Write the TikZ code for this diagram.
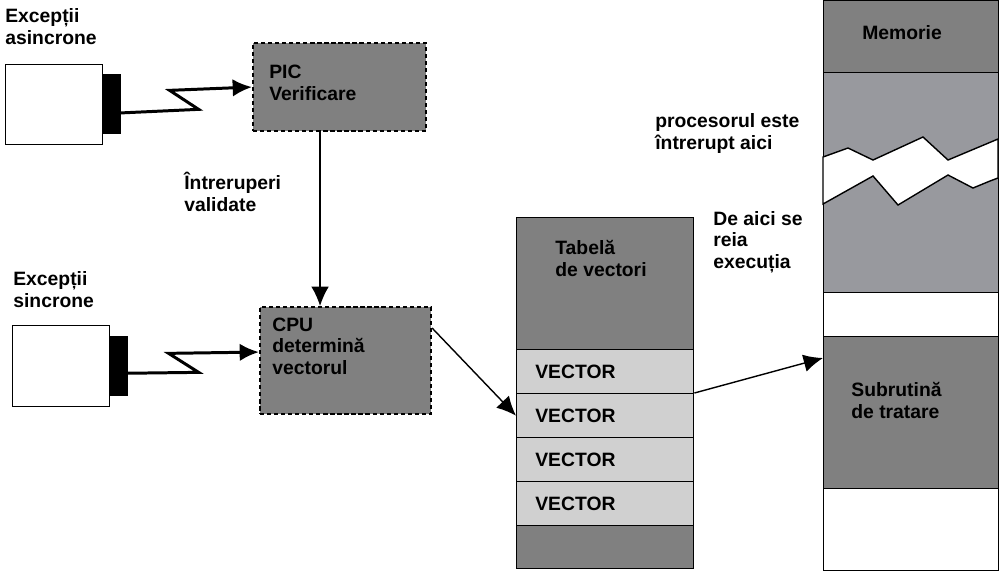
\documentclass[tikz,border=0pt]{standalone}
\usepackage{fontspec}
\setmainfont{Liberation Sans}
\usetikzlibrary{arrows.meta,positioning}
\definecolor{boxgray}{RGB}{128,128,128}
\definecolor{memgray}{RGB}{152,153,158}
\definecolor{rowgray}{RGB}{208,208,208}
\tikzset{>={Latex[length=11pt,width=10pt]}}
\tikzset{lbl/.style={font=\fontsize{11}{12.2}\selectfont\bfseries, anchor=base west, inner sep=0pt, align=left}}
\tikzset{cell/.style={draw, line width=0.8pt, anchor=north west, inner sep=0pt, minimum width=#1}}
\tikzset{device/.style={cell=1.94cm, fill=white}}
\tikzset{plug/.style={fill=black, anchor=north west, inner sep=0pt, minimum width=0.37cm, minimum height=1.2cm}}
\tikzset{unit/.style={fill=boxgray, anchor=north west, inner sep=0pt,
    preaction={draw=gray!25, line width=1.2pt},
    draw, line width=1.2pt, dash pattern=on 2.4pt off 1.6pt}}
\tikzset{zap/.style={->, line width=1.7pt}}
\tikzset{link/.style={->, line width=0.8pt}}

\begin{document}
\begin{tikzpicture}[x=0.02cm, y=-0.02cm]
  \useasboundingbox (0,0) rectangle (1000,583);
  % sources of exceptions
  \node[device, minimum height=1.6cm] (async) at (5,64) {};
  \node[plug] (asyncplug) at (102,74) {};
  \node[device, minimum height=1.62cm] (sync) at (12,325) {};
  \node[plug] (syncplug) at (109,336) {};
  \node[lbl] (asynctxt) at (5,44) {Excepții\\asincrone};
  \node[lbl] (synctxt) at (13,307) {Excepții\\sincrone};

  % controller and processor
  \node[unit, minimum width=3.46cm, minimum height=1.76cm] (pic) at (252,42) {};
  \node[unit, minimum width=3.42cm, minimum height=2.14cm] (cpu) at (259,306) {};
  \node[lbl] (pictxt) at (269,100) {PIC\\Verificare};
  \node[lbl] (cputxt) at (272,374) {CPU\\determină\\vectorul};
  \node[lbl] (validtxt) at (184,211) {Întreruperi\\validate};

  % vector table
  \node[cell=3.54cm, fill=boxgray, minimum height=2.64cm] (tabtop) at (516,217) {};
  \foreach \i in {1,...,4}
    \node[cell=3.54cm, fill=rowgray, minimum height=0.88cm] (vec\i) at (516,305+44*\i) {};
  \node[cell=3.54cm, fill=boxgray, minimum height=0.86cm] (tabbot) at (516,525) {};
  \node[lbl] (tabtxt) at (555,276) {Tabelă\\de vectori};
  \foreach \i in {1,...,4}
    \node[lbl] (vectxt\i) at (535,334+44*\i) {VECTOR};

  % memory
  \node[cell=3.5cm, fill=boxgray, minimum height=1.44cm] (memtop) at (823,0) {};
  \node[cell=3.5cm, fill=memgray, minimum height=4.4cm] (memmid) at (823,72) {};
  \node[cell=3.5cm, fill=white, minimum height=0.88cm] (memgap) at (823,292) {};
  \node[cell=3.5cm, fill=boxgray, minimum height=3.04cm] (memsub) at (823,336) {};
  \node[cell=3.5cm, fill=white, minimum height=1.64cm] (membot) at (823,488) {};
  \draw[fill=white, line width=0.8pt] (823,157) -- (848,148) -- (873,160) -- (923,137)
    -- (948,160) -- (998,139) -- (998,178) -- (990,181) -- (973,188) -- (948,175)
    -- (898,205) -- (873,176) -- (823,204) -- cycle;
  \node[lbl] (memtxt) at (862,39) {Memorie};
  \node[lbl] (subtxt) at (851,418) {Subrutină\\de tratare};
  \node[lbl] (stoptxt) at (655,149) {procesorul este\\întrerupt aici};
  \node[lbl] (resumetxt) at (713,268) {De aici se\\reia\\execuția};

  % connections
  \draw[zap] ([yshift=-0.18cm]asyncplug.center) -- ++(87,-4) -- ++(-29,-19) -- (pic.west);
  \draw[zap] ([yshift=-0.14cm]syncplug.center) -- ++(80,-1) -- ++(-30,-19) -- ([yshift=0.17cm]cpu.west);
  \draw[link] ([xshift=-0.39cm]pic.south) -- ([xshift=-0.39cm]pic.south |- cpu.north);
  \draw[link] ([yshift=-0.44cm]cpu.north east) -- (vec2.west);
  \draw[link] (vec2.north east) -- ([yshift=-0.44cm]memsub.north west);
\end{tikzpicture}
\end{document}
